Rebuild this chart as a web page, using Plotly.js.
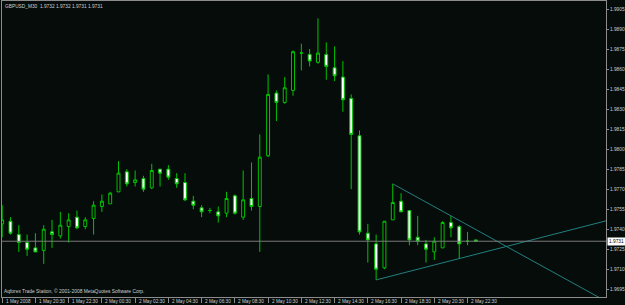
<!DOCTYPE html>
<html>
<head>
<meta charset="utf-8">
<script src="https://cdn.plot.ly/plotly-3.0.1.min.js"></script>
<style>
html,body{margin:0;padding:0;background:#050c0a;}
#chart{width:625px;height:305px;}
</style>
</head>
<body>
<div id="chart"></div>
<script>
// GBPUSD M30, 1 May 2008 18:30 .. 2 May 2008 23:00 (bar index = position)
const openP  = [1.9744,1.9746,1.9736,1.9730,1.9726,1.9724,1.9738,1.9735,1.9742,1.9749,
                1.9742,1.9748,1.9757,1.9759,1.9768,1.9783,1.9775,1.9778,1.9771,1.9785,
                1.9785,1.9778,1.9775,1.9761,1.9756,1.9754,1.9753,1.9752,1.9765,1.9749,
                1.9763,1.9757,1.9795,1.9842,1.9835,1.9844,1.9872,1.9871,1.9865,1.9871,
                1.9861,1.9854,1.9838,1.9810,1.9737,1.9729,1.9711,1.9747,1.9761,1.9754,
                1.9734,1.9729,1.9723,1.9726,1.9745,1.9742,1.9731,1.9732];
const highP  = [1.9758,1.9749,1.9743,1.9736,1.9737,1.9743,1.9747,1.9753,1.9752,1.9754,
                1.9749,1.9761,1.9766,1.9768,1.9791,1.9785,1.9784,1.9780,1.9789,1.9785,
                1.9788,1.9782,1.9782,1.9765,1.9758,1.9756,1.9757,1.9768,1.9766,1.9784,
                1.9790,1.9811,1.9856,1.9844,1.9854,1.9874,1.9879,1.9875,1.9898,1.9880,
                1.9877,1.9866,1.9841,1.9814,1.9744,1.9736,1.9746,1.9774,1.9767,1.9754,
                1.9750,1.9732,1.9734,1.9746,1.9750,1.9743,1.9738,1.9732];
const lowP   = [1.9734,1.9736,1.9723,1.9720,1.9723,1.9714,1.9726,1.9733,1.9730,1.9740,
                1.9740,1.9736,1.9753,1.9759,1.9768,1.9772,1.9772,1.9768,1.9770,1.9772,
                1.9777,1.9771,1.9761,1.9755,1.9749,1.9752,1.9745,1.9749,1.9751,1.9747,
                1.9754,1.9723,1.9794,1.9821,1.9834,1.9840,1.9859,1.9862,1.9864,1.9852,
                1.9851,1.9828,1.9770,1.9736,1.9715,1.9702,1.9710,1.9747,1.9753,1.9728,
                1.9728,1.9715,1.9717,1.9726,1.9734,1.9718,1.9728,1.9731];
const closeP = [1.9747,1.9737,1.9730,1.9725,1.9723,1.9740,1.9736,1.9743,1.9747,1.9741,
                1.9747,1.9758,1.9761,1.9767,1.9782,1.9774,1.9777,1.9770,1.9784,1.9782,
                1.9779,1.9774,1.9762,1.9758,1.9753,1.9754,1.9750,1.9763,1.9752,1.9762,
                1.9757,1.9794,1.9841,1.9835,1.9846,1.9873,1.9872,1.9866,1.9872,1.9862,
                1.9855,1.9837,1.9811,1.9738,1.9732,1.9710,1.9746,1.9760,1.9753,1.9732,
                1.9731,1.9725,1.9731,1.9745,1.9741,1.9729,1.9731,1.9731];

const timeTickBars   = [0,4,8,12,16,20,24,28,32,36,40,44,48,52,56];
const timeTickLabels = ['1 May 2008','1 May 20:30','1 May 22:30','2 May 00:30','2 May 02:30',
                        '2 May 04:30','2 May 06:30','2 May 08:30','2 May 10:30','2 May 12:30',
                        '2 May 14:30','2 May 16:30','2 May 18:30','2 May 20:30','2 May 22:30'];
const priceTicks = [1.9695,1.9710,1.9725,1.9740,1.9755,1.9770,1.9785,1.9800,
                    1.9815,1.9830,1.9845,1.9860,1.9875,1.9890,1.9905];

// trend lines drawn on the chart (bar index, price)
const upperTrendX = [47, 74];
const upperTrendY = [1.9774, 1.96814];
const lowerTrendX = [45, 73];
const lowerTrendY = [1.9702, 1.97468];

const symbolTitle = 'GBPUSD_M30  1.9732 1.9732 1.9731 1.9731';
const watermark = 'Aqforex Trade Station, \u00a9 2001-2008 MetaQuotes Software Corp.';

const bars = openP.map((_, i) => i);
const lastClose = closeP[closeP.length - 1];

const BG = '#050c0a';
const GREEN = '#00c400';
const AXIS = '#8c8c8c';
const TXT = '#d0d0d0';
const TREND = '#228080';
const FONT = 'Liberation Sans, Arial, sans-serif';

const traces = [
  {
    type: 'candlestick',
    x: bars, open: openP, high: highP, low: lowP, close: closeP,
    increasing: {line: {color: GREEN, width: 1}, fillcolor: '#000000'},
    decreasing: {line: {color: GREEN, width: 1}, fillcolor: '#ffffff'},
    whiskerwidth: 0,
    hoverinfo: 'skip',
    showlegend: false
  },
  {
    type: 'scatter', mode: 'lines',
    x: upperTrendX, y: upperTrendY,
    line: {color: TREND, width: 1},
    hoverinfo: 'skip', showlegend: false
  },
  {
    type: 'scatter', mode: 'lines',
    x: lowerTrendX, y: lowerTrendY,
    line: {color: TREND, width: 1},
    hoverinfo: 'skip', showlegend: false
  }
];

const annotations = timeTickBars.map((b, i) => ({
  x: b, xref: 'x', y: 0, yref: 'paper',
  xanchor: 'left', yanchor: 'top', xshift: 1.5, yshift: 0.5,
  text: timeTickLabels[i], showarrow: false,
  font: {family: FONT, size: 4.7, color: TXT}
}));
annotations.push({
  x: 0, xref: 'paper', y: 1, yref: 'paper', xanchor: 'left', yanchor: 'top',
  xshift: 1, yshift: -0.5, text: symbolTitle, showarrow: false,
  font: {family: FONT, size: 4.8, color: TXT}
});
annotations.push({
  x: 0, xref: 'paper', y: 0, yref: 'paper', xanchor: 'left', yanchor: 'bottom',
  xshift: 0, yshift: 1.5, text: watermark, showarrow: false,
  font: {family: FONT, size: 4.9, color: TXT}
});
annotations.push({
  x: 1, xref: 'paper', y: lastClose, yref: 'y', xanchor: 'left', yanchor: 'middle',
  xshift: 0.5, text: lastClose.toFixed(4), showarrow: false,
  bgcolor: '#ffffff', borderpad: 1,
  font: {family: FONT, size: 4.8, color: '#000000'}
});

const layout = {
  width: 625, height: 305,
  margin: {l: 2, r: 19, t: 1, b: 8, pad: 0},
  paper_bgcolor: BG, plot_bgcolor: BG,
  boxgap: 0.5,
  showlegend: false,
  xaxis: {
    range: [-0.02, 72.66], fixedrange: true,
    showgrid: false, zeroline: false,
    showline: true, linecolor: AXIS, linewidth: 1, mirror: true,
    ticks: 'outside', tickvals: timeTickBars, ticklen: 5, tickcolor: AXIS,
    showticklabels: false,
    rangeslider: {visible: false}
  },
  yaxis: {
    side: 'right',
    range: [1.96892, 1.9911], fixedrange: true,
    showgrid: false, zeroline: false,
    showline: true, linecolor: AXIS, linewidth: 1, mirror: true,
    ticks: 'outside', ticklen: 2, tickcolor: AXIS,
    tickvals: priceTicks, ticktext: priceTicks.map(v => v.toFixed(4)),
    tickfont: {family: FONT, size: 4.8, color: TXT}
  },
  shapes: [{
    type: 'line', xref: 'paper', x0: 0, x1: 1, yref: 'y', y0: lastClose, y1: lastClose,
    line: {color: '#7a7a7a', width: 1}
  }],
  annotations: annotations
};

Plotly.newPlot('chart', traces, layout, {staticPlot: true, displayModeBar: false});
</script>
</body>
</html>
